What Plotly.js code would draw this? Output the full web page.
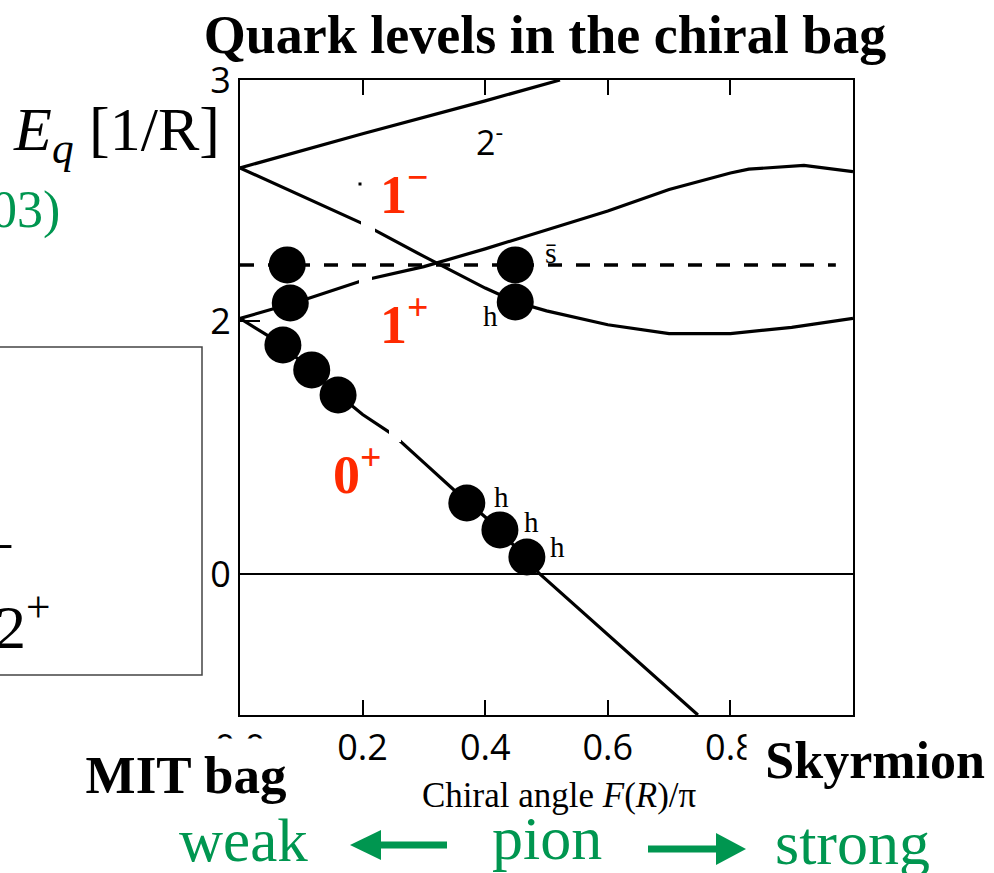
<!DOCTYPE html>
<html>
<head>
<meta charset="utf-8">
<script src="https://cdn.plot.ly/plotly-3.0.1.min.js"></script>
<style>
  html, body { margin: 0; padding: 0; background: #fff; }
  #chart { width: 994px; height: 873px; }
</style>
</head>
<body>
<div id="chart"></div>
<script>
// Chiral angle F(R)/pi on x, quark energy E_q in units of 1/R on y.
const F_2m = [0, 0.2, 0.4, 0.522];
const E_2m = [3.21, 3.48, 3.74, 3.905];

const F_1m = [0, 0.1, 0.2, 0.3, 0.4, 0.45, 0.5, 0.6, 0.7, 0.8, 0.9, 1.0];
const E_1m = [3.21, 2.99, 2.77, 2.51, 2.26, 2.15, 2.08, 1.97, 1.90, 1.90, 1.95, 2.02];

const F_1p = [0, 0.1, 0.2, 0.3, 0.4, 0.5, 0.6, 0.7, 0.8, 0.83, 0.92, 1.0];
const E_1p = [2.02, 2.16, 2.32, 2.43, 2.57, 2.72, 2.87, 3.04, 3.17, 3.20, 3.23, 3.18];

const F_0p = [0, 0.05, 0.1, 0.15, 0.2, 0.25, 0.3, 0.35, 0.4, 0.45, 0.489, 0.6, 0.7, 0.747];
const E_0p = [2.02, 1.87, 1.68, 1.46, 1.26, 1.10, 0.88, 0.66, 0.45, 0.21, 0.0, -0.48, -0.91, -1.115];

// strange-antiquark level
const F_sbar = [0, 0.972];
const E_sbar = [2.443, 2.443];

// occupied quark states
const ballF = [0.077, 0.449, 0.082, 0.449, 0.070, 0.117, 0.160, 0.370, 0.424, 0.468];
const ballE = [2.443, 2.443, 2.142, 2.150, 1.810, 1.613, 1.415, 0.561, 0.348, 0.134];

const xTickVals = [0, 0.2, 0.4, 0.6, 0.8];
const xTickText = ['0.0', '0.2', '0.4', '0.6', '0.8'];
const yTickVals = [0, 2, 3.905];
const yTickText = ['0', '2', '3'];

// plot frame in page pixels
const L = 240, T = 80, W = 613, H = 635;
const px = v => (v - L) / W;
const py = v => (T + H - v) / H;

const SERIF = 'Liberation Serif, Times New Roman, serif';
const SANS = 'Open Sans, DejaVu Sans, sans-serif';
const RED = '#ff2a00';
const GREEN = '#009650';

const lineStyle = { color: '#000', width: 3.2 };
const traces = [
  { x: F_2m, y: E_2m, mode: 'lines', line: lineStyle, hoverinfo: 'skip' },
  { x: F_1m, y: E_1m, mode: 'lines', line: lineStyle, hoverinfo: 'skip' },
  { x: F_1p, y: E_1p, mode: 'lines', line: lineStyle, hoverinfo: 'skip' },
  { x: F_0p, y: E_0p, mode: 'lines', line: lineStyle, hoverinfo: 'skip' },
  { x: F_sbar, y: E_sbar, mode: 'lines', line: { color: '#000', width: 3.5, dash: '14px,14px' }, hoverinfo: 'skip' },
  { x: ballF, y: ballE, mode: 'markers', hoverinfo: 'skip',
    marker: { symbol: 'circle', size: 37, color: '#000', line: { width: 0 } } }
];

function txt(text, x, y, size, opts) {
  return Object.assign({
    text: text, xref: 'paper', yref: 'paper', x: px(x), y: py(y),
    xanchor: 'center', yanchor: 'middle', showarrow: false,
    font: { family: SERIF, size: size, color: '#000' }
  }, opts || {});
}

const annotations = [
  txt('<i>E</i><sub><i>q</i></sub> [1/R]', 222, 133, 62, { xanchor: 'right' }),
  txt('03)', 62, 210, 52, { xanchor: 'right', font: { family: SERIF, size: 52, color: GREEN } }),
  txt('–', 14, 540, 60, { xanchor: 'right' }),
  txt('2<sup>+</sup>', 52, 622, 62, { xanchor: 'right' }),

  txt('2<sup>-</sup>', 489, 140, 34, { font: { family: SANS, size: 34, color: '#000' } }),
  txt('1<sup>−</sup>', 404, 190, 54, { font: { family: SERIF, size: 54, color: RED, weight: 700 } }),
  txt('1<sup>+</sup>', 404, 320, 54, { font: { family: SERIF, size: 54, color: RED, weight: 700 } }),
  txt('0<sup>+</sup>', 357, 470, 54, { font: { family: SERIF, size: 54, color: RED, weight: 700 } }),
  txt('s\u0304', 551, 252, 30),
  txt('h', 490, 316, 29),
  txt('h', 501, 497, 29),
  txt('h', 531, 522, 29),
  txt('h', 557, 547, 29),

  txt('<b>MIT bag</b>', 186, 775, 53, { bgcolor: '#fff', width: 220, height: 72, borderpad: 0 }),
  txt('<b>Skyrmion</b>', 866, 760, 52, { bgcolor: '#fff', width: 238, height: 62, borderpad: 0, align: 'right' }),
  txt('Chiral angle <i>F</i>(<i>R</i>)/π', 559, 795, 35),
  txt('weak', 243, 840, 61, { font: { family: SERIF, size: 61, color: GREEN } }),
  txt('pion', 547, 838, 62, { font: { family: SERIF, size: 62, color: GREEN } }),
  txt('strong', 852, 843, 62, { font: { family: SERIF, size: 62, color: GREEN } })
];

function rectPx(x0, x1, y0, y1, style) {
  return Object.assign({ type: 'rect', xref: 'paper', yref: 'paper',
    x0: px(x0), x1: px(x1), y0: py(y1), y1: py(y0), layer: 'above' }, style);
}
function pathPx(points, color) {
  const d = points.map((p, i) => (i ? 'L' : 'M') + px(p[0]) + ',' + py(p[1])).join(' ') + ' Z';
  return { type: 'path', xref: 'paper', yref: 'paper', path: d, fillcolor: color,
    line: { width: 0 }, layer: 'above' };
}
const white = { fillcolor: '#fff', line: { width: 0 } };

const shapes = [
  // label box on the left
  rectPx(-5, 202, 347, 675, { fillcolor: 'rgba(0,0,0,0)', line: { color: '#444', width: 1.5 } }),
  // breaks in the level lines behind the labels
  rectPx(361, 375, 217, 241, white),
  rectPx(359, 372, 275, 292, white),
  rectPx(389, 401, 424, 442, white),
  rectPx(358.5, 361.5, 182.5, 185.5, { fillcolor: '#000', line: { width: 0 } }),
  // pion arrows
  { type: 'line', xref: 'paper', yref: 'paper', x0: px(447), x1: px(376), y0: py(845), y1: py(845),
    line: { color: GREEN, width: 7 }, layer: 'above' },
  pathPx([[350, 845], [381, 830], [381, 860]], GREEN),
  { type: 'line', xref: 'paper', yref: 'paper', x0: px(648), x1: px(719), y0: py(849), y1: py(849),
    line: { color: GREEN, width: 7 }, layer: 'above' },
  pathPx([[746, 849], [716, 833], [716, 865]], GREEN)
];

const axisFont = { family: SANS, size: 36, color: '#000' };

const layout = {
  width: 994, height: 873,
  margin: { l: L, r: 994 - L - W, t: T, b: 873 - T - H, pad: 0 },
  paper_bgcolor: '#fff', plot_bgcolor: '#fff',
  showlegend: false,
  title: {
    text: '<b>Quark levels in the chiral bag</b>',
    font: { family: SERIF, size: 54, color: '#000' },
    x: 545 / 994, xanchor: 'center', xref: 'container',
    y: 1 - 34 / 873, yanchor: 'middle', yref: 'container'
  },
  xaxis: {
    range: [0, 1], showgrid: false, zeroline: false,
    showline: true, linecolor: '#000', linewidth: 2, mirror: 'ticks',
    ticks: 'inside', ticklen: 15, tickwidth: 2, tickcolor: '#000',
    tickvals: xTickVals, ticktext: xTickText, tickfont: axisFont
  },
  yaxis: {
    range: [-1.115, 3.905], showgrid: false,
    zeroline: true, zerolinecolor: '#000', zerolinewidth: 1.5,
    showline: true, linecolor: '#000', linewidth: 2, mirror: true,
    ticks: 'inside', ticklen: 20, tickwidth: 2, tickcolor: '#000',
    tickvals: yTickVals, ticktext: yTickText, tickfont: axisFont
  },
  annotations: annotations,
  shapes: shapes
};

Plotly.newPlot('chart', traces, layout, { staticPlot: true, displayModeBar: false });
</script>
</body>
</html>
